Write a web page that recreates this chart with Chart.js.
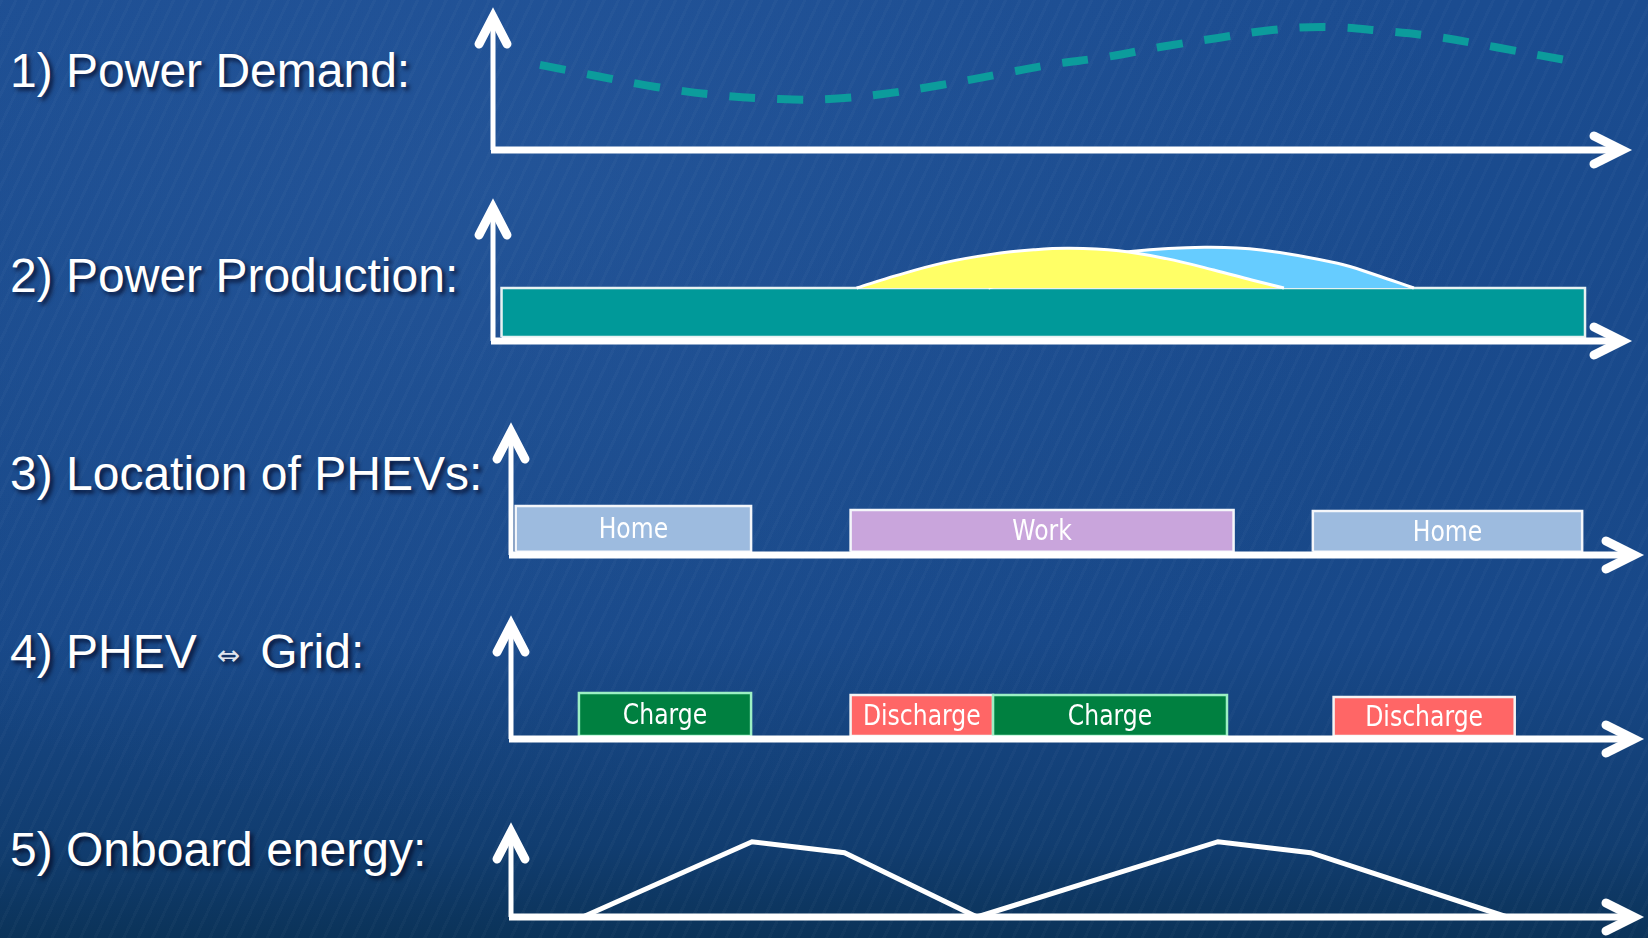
<!DOCTYPE html>
<html>
<head>
<meta charset="utf-8">
<script src="https://cdn.jsdelivr.net/npm/chart.js@4.4.1/dist/chart.umd.min.js"></script>
<style>
html, body { margin: 0; padding: 0; }
body {
  width: 1648px; height: 938px; position: relative; overflow: hidden;
  background-color: #174a8e;
  background-image:
    repeating-linear-gradient(115deg, rgba(255,255,255,0.022) 0 3px, rgba(255,255,255,0) 3px 13px),
    radial-gradient(ellipse at 30% 20%, rgba(60,110,180,0.25), rgba(0,0,0,0) 60%),
    linear-gradient(to bottom, #1b4c90 0%, #184888 68%, #113d70 90%, #0b3359 100%);
  font-family: 'Liberation Sans', Arial, sans-serif;
}
.lbl {
  position: absolute; left: 10px; color: #fff; font-size: 48px; line-height: 48px;
  white-space: nowrap; text-shadow: 3px 3px 4px rgba(0,0,25,0.75);
}
.lbl .arr { font-family: 'DejaVu Sans'; font-size: 28px; color: #dfe4ee; margin: 0 20px; vertical-align: 3px; }
canvas { position: absolute; }
</style>
</head>
<body>
<div class="lbl" style="top:47px">1) Power Demand:</div>
<div class="lbl" style="top:252px">2) Power Production:</div>
<div class="lbl" style="top:450px">3) Location of PHEVs:</div>
<div class="lbl" style="top:628px">4) PHEV<span class="arr">⇔</span>Grid:</div>
<div class="lbl" style="top:826px">5) Onboard energy:</div>

<canvas id="demand"></canvas>
<canvas id="production"></canvas>
<canvas id="location"></canvas>
<canvas id="grid"></canvas>
<canvas id="energy"></canvas>

<script>
// x = hour of the day (0..24), y = arbitrary level (0..10) per panel

// 1) power demand (dashed curve)
const demandX = [0.99, 2.13, 3.44, 4.72, 6.03, 7.09, 8.22, 9.45, 10.59, 11.72, 12.93, 14.07, 15.29, 16.43, 17.57, 18.79, 19.93, 21.13, 22.61];
const demandY = [5.99, 5.25, 4.44, 3.87, 3.59, 3.59, 3.94, 4.58, 5.28, 5.99, 6.55, 7.25, 7.89, 8.45, 8.66, 8.38, 7.96, 7.25, 6.34];

// 2) power production: base load block + two humps
const baseX = [0.18, 23.03];
const baseY = [0.28, 3.73];
const solarX = [7.67, 8.50, 9.50, 10.50, 11.40, 12.16, 13.20, 14.20, 15.20, 16.00, 16.68];
const solarY = [3.73, 4.60, 5.50, 6.10, 6.42, 6.53, 6.35, 5.80, 5.00, 4.30, 3.73];
const windX = [10.45, 11.60, 12.60, 13.45, 15.00, 16.20, 17.81, 18.62, 19.42];
const windY = [3.73, 4.90, 5.80, 6.30, 6.60, 6.41, 5.47, 4.65, 3.73];

// 3) location of the PHEVs
const placeNames = ['Home', 'Work', 'Home'];
const placeStart = [0.10, 7.20, 17.00];
const placeEnd = [5.09, 15.32, 22.71];
const placeTop = [3.71, 3.41, 3.33];

// 4) PHEV <-> grid
const gridModes = ['Charge', 'Discharge', 'Charge', 'Discharge'];
const gridStart = [1.44, 7.20, 10.22, 17.44];
const gridEnd = [5.09, 10.22, 15.18, 21.28];
const gridTop = [3.74, 3.58, 3.58, 3.41];

// 5) onboard energy
const energyX = [1.52, 5.11, 7.07, 9.88, 14.99, 16.95, 21.12];
const energyY = [0, 8.01, 6.84, 0, 8.01, 6.84, 0];

const boxBottom = 0.25;
const fillOf = { Home: '#9dbbdf', Work: '#c9a5dc', Charge: '#008040', Discharge: '#ff6666' };
const edgeOf = { Home: '#f4f6fa', Work: '#f4f6fa', Charge: '#9cf0c4', Discharge: '#f4f4f4' };

const pts = (xs, ys) => xs.map((x, i) => ({ x: x, y: ys[i] }));
const rect = (x0, x1, y0, y1) => [{x: x0, y: y0}, {x: x0, y: y1}, {x: x1, y: y1}, {x: x1, y: y0}, {x: x0, y: y0}];

// white axes with open arrow heads
const arrowAxes = {
  id: 'arrowAxes',
  afterDatasetsDraw(chart) {
    const ctx = chart.ctx, a = chart.chartArea;
    ctx.save();
    ctx.strokeStyle = '#fff';
    ctx.lineCap = 'butt';
    ctx.lineWidth = 5;
    ctx.beginPath(); ctx.moveTo(a.left, a.bottom); ctx.lineTo(a.left, a.top + 8); ctx.stroke();
    ctx.lineWidth = 7;
    ctx.beginPath(); ctx.moveTo(a.left - 2, a.bottom); ctx.lineTo(a.right - 8, a.bottom); ctx.stroke();
    ctx.lineWidth = 9; ctx.lineCap = 'round'; ctx.lineJoin = 'miter';
    ctx.beginPath();
    ctx.moveTo(a.left - 14, a.top + 36); ctx.lineTo(a.left, a.top + 9); ctx.lineTo(a.left + 14, a.top + 36);
    ctx.stroke();
    ctx.beginPath();
    ctx.moveTo(a.right - 37, a.bottom - 14); ctx.lineTo(a.right - 9, a.bottom); ctx.lineTo(a.right - 37, a.bottom + 14);
    ctx.stroke();
    ctx.restore();
  }
};

function boxLabels(names, start, end, top) {
  return {
    id: 'boxLabels',
    afterDatasetsDraw(chart) {
      const ctx = chart.ctx, x = chart.scales.x, y = chart.scales.y;
      ctx.save();
      ctx.fillStyle = '#fff';
      ctx.font = '28px "DejaVu Sans"';
      ctx.textAlign = 'center';
      ctx.textBaseline = 'middle';
      names.forEach((n, i) => {
        const cx = x.getPixelForValue((start[i] + end[i]) / 2);
        const cy = y.getPixelForValue((top[i] + boxBottom) / 2);
        ctx.save(); ctx.translate(cx, cy + 2); ctx.scale(0.84, 1.02); ctx.fillText(n, 0, 0); ctx.restore();
      });
      ctx.restore();
    }
  };
}

function boxSets(names, start, end, top) {
  return names.map((n, i) => ({
    data: rect(start[i], end[i], boxBottom, top[i]),
    fill: 'shape',
    backgroundColor: fillOf[n],
    borderColor: edgeOf[n],
    borderWidth: 2.5,
    tension: 0,
    order: n === 'Charge' ? 0 : 1
  }));
}

function panel(id, g, datasets, extra) {
  const pad = 26;
  const cv = document.getElementById(id);
  cv.width = g.right - g.left + 2 * pad;
  cv.height = g.bottom - g.top + 2 * pad;
  cv.style.left = (g.left - pad) + 'px';
  cv.style.top = (g.top - pad) + 'px';
  datasets.forEach(d => { d.pointRadius = 0; d.clip = false; });
  return new Chart(cv, {
    type: 'line',
    data: { datasets: datasets },
    options: {
      responsive: false,
      animation: false,
      events: [],
      layout: { padding: pad },
      plugins: { legend: { display: false }, tooltip: { enabled: false } },
      scales: {
        x: { type: 'linear', min: 0, max: 24, display: false },
        y: { min: 0, max: 10, display: false }
      }
    },
    plugins: [arrowAxes].concat(extra || [])
  });
}

panel('demand', { left: 493, top: 8, right: 1631, bottom: 150 }, [{
  data: pts(demandX, demandY),
  borderColor: '#0c9c9c', borderWidth: 8, borderDash: [26, 22],
  fill: false, tension: 0.4
}]);

panel('production', { left: 493, top: 199, right: 1631, bottom: 341 }, [
  { data: pts(solarX, solarY), fill: { value: baseY[1] }, backgroundColor: '#ffff66',
    borderColor: '#ffffff', borderWidth: 3, tension: 0.4, order: 1 },
  { data: pts(windX, windY), fill: { value: baseY[1] }, backgroundColor: '#66ccff',
    borderColor: '#ffffff', borderWidth: 3, tension: 0.4, order: 2 },
  { data: rect(baseX[0], baseX[1], baseY[0], baseY[1]), fill: 'shape', backgroundColor: '#009999',
    borderColor: '#e6f2f2', borderWidth: 2.5, tension: 0, order: 3 }
]);

panel('location', { left: 511, top: 423, right: 1643, bottom: 555 },
  boxSets(placeNames, placeStart, placeEnd, placeTop),
  [boxLabels(placeNames, placeStart, placeEnd, placeTop)]);

panel('grid', { left: 511, top: 616, right: 1643, bottom: 739 },
  boxSets(gridModes, gridStart, gridEnd, gridTop),
  [boxLabels(gridModes, gridStart, gridEnd, gridTop)]);

panel('energy', { left: 511, top: 823, right: 1643, bottom: 917 }, [{
  data: pts(energyX, energyY),
  borderColor: '#ffffff', borderWidth: 5, fill: false, tension: 0
}]);
</script>
</body>
</html>
